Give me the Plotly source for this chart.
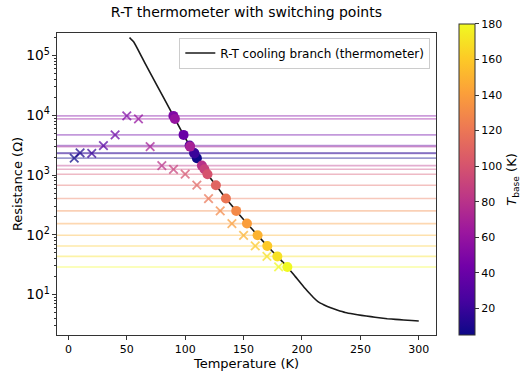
import plotly.graph_objects as go
from plotly.colors import sample_colorscale

# R-T cooling branch (thermometer curve)
curve_T = [52.3, 53.5, 56, 65, 75, 89.9, 98.6, 110, 119.1, 126.3, 134.9, 143.7, 152.9, 162,
           170.3, 178.9, 187.5, 194.3, 201.4, 206, 210, 214, 219, 224, 230, 237, 244, 251,
           259, 266, 273, 280, 287, 294, 300]
curve_R = [200000, 190500, 170000, 78900, 34100, 9770, 4710, 1920, 1035, 676, 404, 251, 155, 98,
           65, 43.4, 28.9, 19.9, 13.5, 10.7, 8.8, 7.5, 6.67, 6.03, 5.5, 5.0, 4.7, 4.47,
           4.25, 4.07, 3.93, 3.83, 3.74, 3.66, 3.6]

# switching points
T_base = [5, 10, 20, 30, 40, 50, 60, 70, 80, 90, 100, 110, 120, 130, 140, 150, 160, 170, 180]
R_switch = [1920, 2350, 2300, 3120, 4710, 9810, 8730, 3000, 1440, 1250, 1035, 676, 404, 251,
            154, 98, 65, 43.4, 28.9]
T_switch = [110, 107.7, 107.9, 103.8, 98.6, 89.9, 91.2, 104.2, 114.3, 116.5, 119.1, 126.3,
            134.9, 143.7, 152.9, 162, 170.3, 178.9, 187.5]

C_MIN, C_MAX = 5, 180
X_RANGE = [-9.75, 314.75]
Y_RANGE_LOG = [0.321, 5.38]

FONT = "DejaVu Sans"

norm = [(t - C_MIN) / (C_MAX - C_MIN) for t in T_base]
cols = sample_colorscale("Plasma", norm)


def rgba(c, a):
    v = c[c.index("(") + 1:c.index(")")].split(",")
    return f"rgba({float(v[0]):.0f},{float(v[1]):.0f},{float(v[2]):.0f},{a})"


fig = go.Figure()

# horizontal switching lines
for r, c in zip(R_switch, cols):
    fig.add_trace(go.Scatter(x=X_RANGE, y=[r, r], mode="lines",
                             line=dict(color=rgba(c, 0.4), width=1.6),
                             showlegend=False, hoverinfo="skip"))

# thermometer curve
fig.add_trace(go.Scatter(x=curve_T, y=curve_R, mode="lines",
                         line=dict(color="#1a1a1a", width=1.6, shape="spline", smoothing=0.5),
                         name="R-T cooling branch (thermometer)"))

# crosses at base temperature
fig.add_trace(go.Scatter(x=T_base, y=R_switch, mode="markers",
                         marker=dict(symbol="x-thin", size=8.5, color=T_base,
                                     colorscale="Plasma", cmin=C_MIN, cmax=C_MAX,
                                     opacity=0.85,
                                     line=dict(width=1.8, color=[rgba(c, 0.85) for c in cols])),
                         showlegend=False))

# circles on curve
fig.add_trace(go.Scatter(x=T_switch, y=R_switch, mode="markers",
                         marker=dict(symbol="circle", size=10, color=T_base,
                                     colorscale="Plasma", cmin=C_MIN, cmax=C_MAX,
                                     line=dict(width=0),
                                     showscale=True,
                                     colorbar=dict(
                                         x=1.061, xanchor="left", xref="paper",
                                         y=0.515, yanchor="middle",
                                         len=311, lenmode="pixels",
                                         thickness=16, thicknessmode="pixels",
                                         xpad=0, ypad=0,
                                         outlinecolor="#333", outlinewidth=1,
                                         tickvals=[20, 40, 60, 80, 100, 120, 140, 160, 180],
                                         ticks="outside", ticklen=4, tickcolor="#333",
                                         tickfont=dict(size=11, color="black", family=FONT),
                                         title=dict(text="<i>T</i><sub>base</sub> (K)",
                                                    side="right",
                                                    font=dict(size=13, color="black", family=FONT)),
                                     )),
                         showlegend=False))

fig.update_layout(
    width=526, height=373,
    margin=dict(l=57, r=90, t=33, b=38, autoexpand=False),
    paper_bgcolor="white", plot_bgcolor="white",
    font=dict(family=FONT, color="black"),
    title=dict(text="R-T thermometer with switching points", x=0.4685, xanchor="center",
               xref="container", y=0.968, yanchor="middle", yref="container",
               font=dict(size=14, color="black", family=FONT)),
    legend=dict(x=0.985, y=0.985, xanchor="right", yanchor="top",
                bgcolor="rgba(255,255,255,0.8)", bordercolor="#ccc", borderwidth=1,
                font=dict(size=12, color="black", family=FONT)),
    showlegend=True,
)

fig.update_xaxes(range=X_RANGE, tickvals=[0, 50, 100, 150, 200, 250, 300],
                 ticks="outside", ticklen=4, tickcolor="#333",
                 showline=True, linecolor="#333", linewidth=1, mirror=True,
                 showgrid=False, zeroline=False,
                 tickfont=dict(size=11, family=FONT),
                 title=dict(text="Temperature (K)", font=dict(size=13, family=FONT), standoff=0))

fig.update_yaxes(type="log", range=Y_RANGE_LOG, dtick=1, exponentformat="power",
                 labelalias={"10": "10<sup>1</sup>"},
                 ticks="outside", ticklen=4, tickcolor="#333",
                 minor=dict(ticks="outside", ticklen=2, tickcolor="#333", showgrid=False, dtick="D1"),
                 showline=True, linecolor="#333", linewidth=1, mirror=True,
                 showgrid=False, zeroline=False,
                 tickfont=dict(size=11, family=FONT),
                 title=dict(text="Resistance (Ω)", font=dict(size=13, family=FONT), standoff=0))

fig.write_html("out.html")
